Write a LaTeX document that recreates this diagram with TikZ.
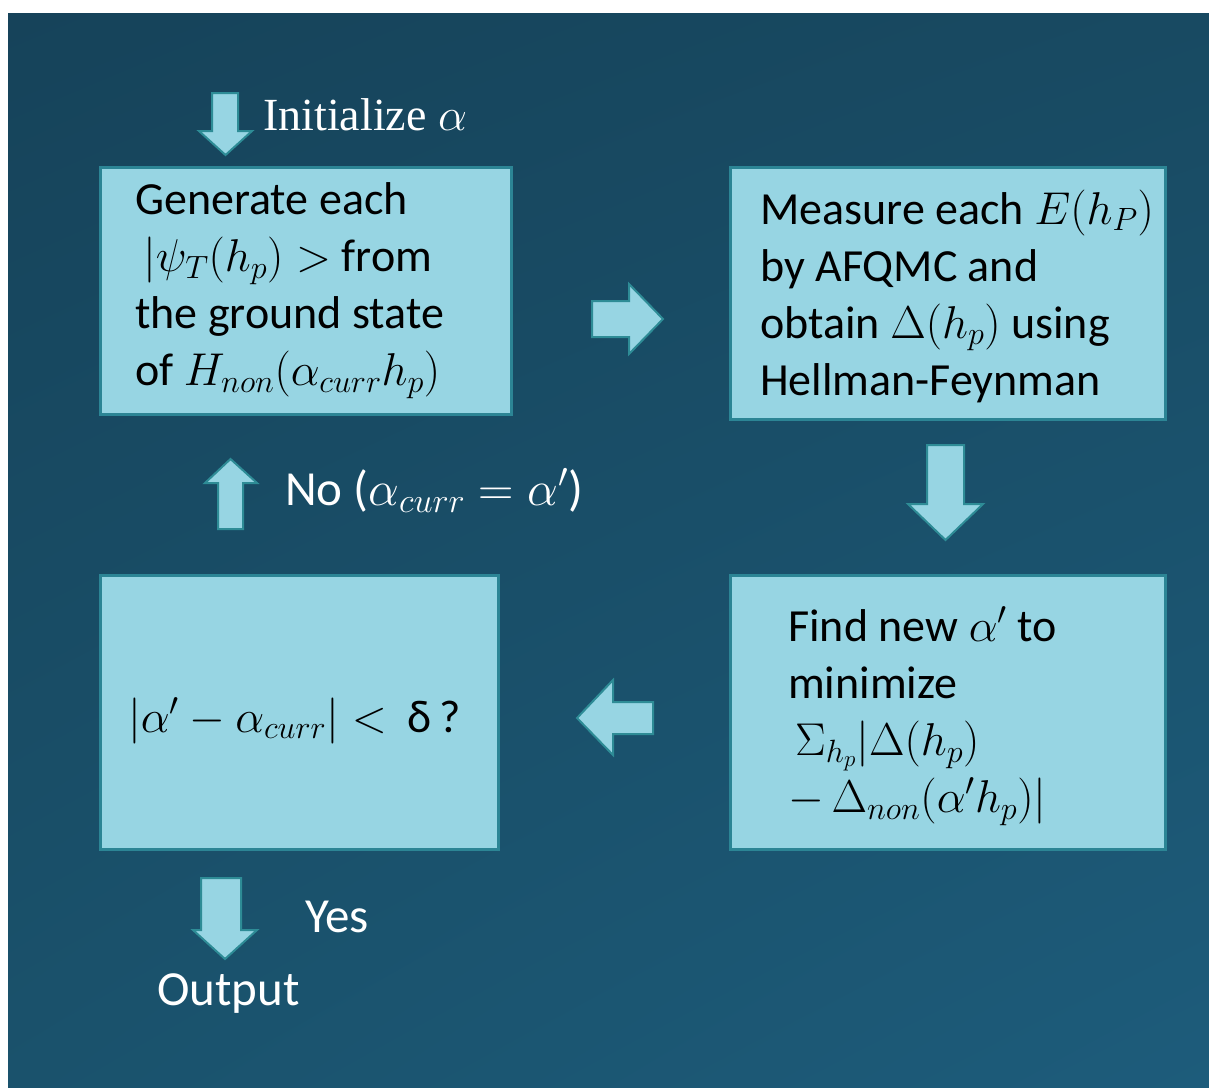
\RequirePackage{fix-cm}
\documentclass[tikz,border=0pt]{standalone}
\usepackage{fontspec}
\usetikzlibrary{shadings}
\setmainfont{Carlito}
\newfontfamily\seriffont{Liberation Serif}
\definecolor{bgA}{HTML}{16435A}
\definecolor{bgB}{HTML}{184A62}
\definecolor{bgC}{HTML}{1A526C}
\definecolor{bgD}{HTML}{1D5C7B}
\definecolor{boxfill}{HTML}{97D5E3}
\definecolor{boxline}{HTML}{2C8595}
\definecolor{arrline}{HTML}{2E8C96}
\begin{document}
\begin{tikzpicture}[x=1pt,y=-1pt,
  flowbox/.style={draw=boxline, line width=3pt, fill=boxfill, rectangle, inner sep=0pt},
  boxtext/.style={align=left, inner sep=0pt, text=black, font=\fontsize{46}{57}\selectfont},
  lbl/.style={inner sep=0pt, text=white, font=\fontsize{49}{56}\selectfont},
  blockarrow/.style={fill=boxfill, draw=arrline, line width=2pt, line join=miter}]
\useasboundingbox (0,0) rectangle (1209,1087);
\fill[white] (0,0) rectangle (1209,1087);
\shade[upper left=bgA, upper right=bgB, lower left=bgC, lower right=bgD] (8,13) rectangle (1209,1087);

% boxes
\node[flowbox, minimum width=411pt, minimum height=247pt] (b1) at (305.5,290.5) {};
\node[flowbox, minimum width=435pt, minimum height=252pt] (b2) at (947.5,293) {};
\node[flowbox, minimum width=435pt, minimum height=274pt] (b3) at (947.5,712) {};
\node[flowbox, minimum width=398pt, minimum height=274pt] (b4) at (299,712) {};

% box texts
\node[boxtext, anchor=west] (t1) at (135,291) {Generate each\\\hspace*{8pt}$|\psi_T(h_p)>$ from\\the ground state\\of $H_{non}(\alpha_{curr}h_p)$};
\node[boxtext, anchor=west] (t2) at (760,296) {Measure each $E(h_P)$\\by AFQMC and\\obtain $\Delta(h_p)$ using\\Hellman-Feynman};
\node[boxtext, anchor=west] (t3) at (788,716) {Find new $\alpha'$ to\\minimize\\\hspace*{7pt}$\Sigma_{h_p}|\Delta(h_p)$\\$-\,\Delta_{non}(\alpha' h_p)|$};
\node[boxtext, anchor=base west] (t4) at (128,732) {$|\alpha'-\alpha_{curr}|<$\ \ δ\,?};

% labels
\node[lbl, anchor=base west, font=\seriffont\fontsize{46}{54}\selectfont] (init) at (263,130) {Initialize $\alpha$};
\node[lbl, anchor=base west] (no) at (285,505) {No ($\alpha_{curr}=\alpha'$)};
\node[lbl, anchor=base west] (yes) at (305,932) {Yes};
\node[lbl, anchor=base west] (out) at (157,1005) {Output};

% block arrows
% initialize (down)
\draw[blockarrow] (212,93) -- (238,93) -- (238,131) -- (252,131) -- (225.5,155) -- (199,131) -- (212,131) -- cycle;
% b1 -> b2 (right)
\draw[blockarrow] (592,301) -- (629,301) -- (629,284) -- (663,319) -- (629,354) -- (629,337) -- (592,337) -- cycle;
% b2 -> b3 (down)
\draw[blockarrow] (927,445) -- (964,445) -- (964,504) -- (983,504) -- (945.5,540) -- (908,504) -- (927,504) -- cycle;
% b3 -> b4 (left)
\draw[blockarrow] (653,702) -- (613,702) -- (613,680) -- (577,718) -- (613,755) -- (613,734) -- (653,734) -- cycle;
% b4 -> b1 (up)
\draw[blockarrow] (218,529) -- (218,483) -- (205,483) -- (230.5,459) -- (257,483) -- (243,483) -- (243,529) -- cycle;
% output (down)
\draw[blockarrow] (201,878) -- (241,878) -- (241,930) -- (257,930) -- (225,959) -- (193,930) -- (201,930) -- cycle;
\end{tikzpicture}
\end{document}
